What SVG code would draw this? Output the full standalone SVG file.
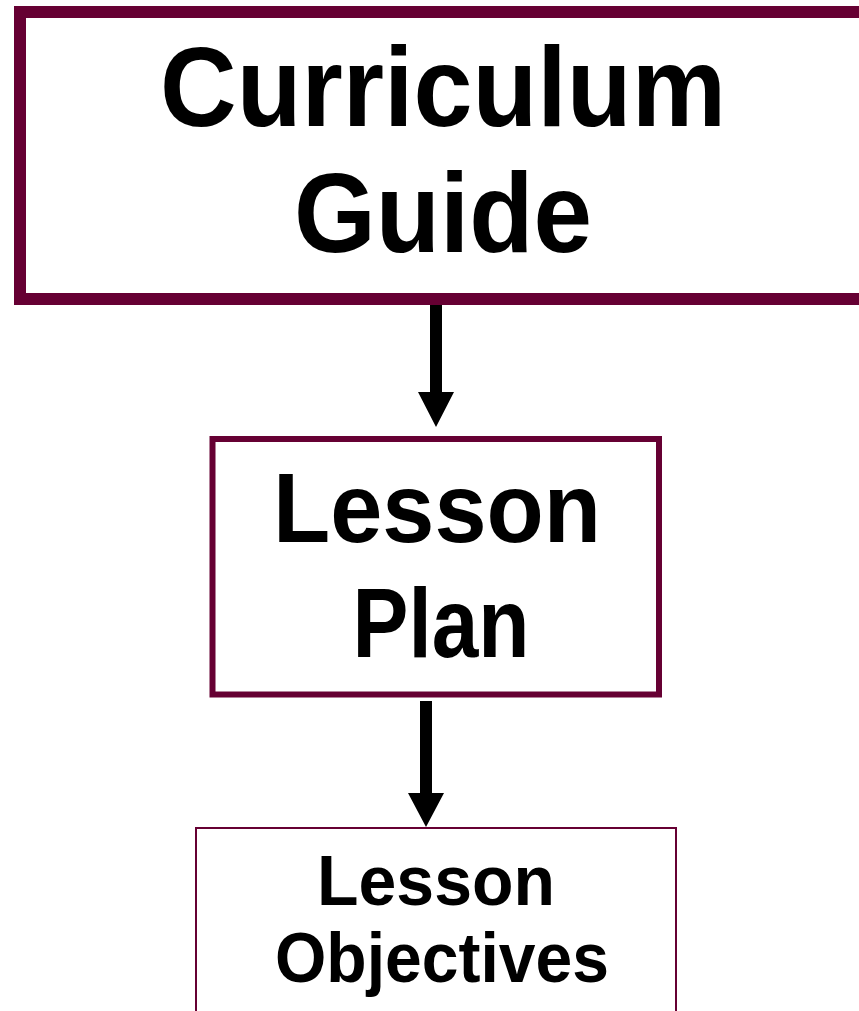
<svg xmlns="http://www.w3.org/2000/svg" width="859" height="1011" viewBox="0 0 859 1011">
<defs>
<style>
.box{fill:#ffffff;stroke:#660033}
.lbl{font-family:"Liberation Sans",Arial,sans-serif;font-weight:bold;fill:#000000;text-anchor:middle}
.arrow{fill:#000000}
</style>
</defs>
<rect width="859" height="1011" fill="#ffffff"/>
<g id="node-curriculum-guide">
<rect class="box" x="20" y="12" width="852" height="287" stroke-width="12"/>
<text class="lbl" x="443" y="126" font-size="114" textLength="566" lengthAdjust="spacingAndGlyphs">Curriculum</text>
<text class="lbl" x="443" y="252" font-size="114" textLength="298" lengthAdjust="spacingAndGlyphs">Guide</text>
</g>
<g id="node-lesson-plan">
<rect class="box" x="212.5" y="439" width="446.5" height="255.5" stroke-width="6"/>
<text class="lbl" x="437" y="542" font-size="99" textLength="328" lengthAdjust="spacingAndGlyphs">Lesson</text>
<text class="lbl" x="441" y="657" font-size="99" textLength="177" lengthAdjust="spacingAndGlyphs">Plan</text>
</g>
<g id="node-lesson-objectives">
<rect class="box" x="196" y="828" width="480" height="220" stroke-width="2"/>
<text class="lbl" x="436" y="905" font-size="71" textLength="238" lengthAdjust="spacingAndGlyphs">Lesson</text>
<text class="lbl" x="442" y="982" font-size="71" textLength="334" lengthAdjust="spacingAndGlyphs">Objectives</text>
</g>
<g id="connectors">
<path class="arrow" d="M430 305 H442 V392 H454 L436 427 L418 392 H430 Z"/>
<path class="arrow" d="M420 701 H432 V793 H444 L426 827 L408 793 H420 Z"/>
</g>
</svg>
